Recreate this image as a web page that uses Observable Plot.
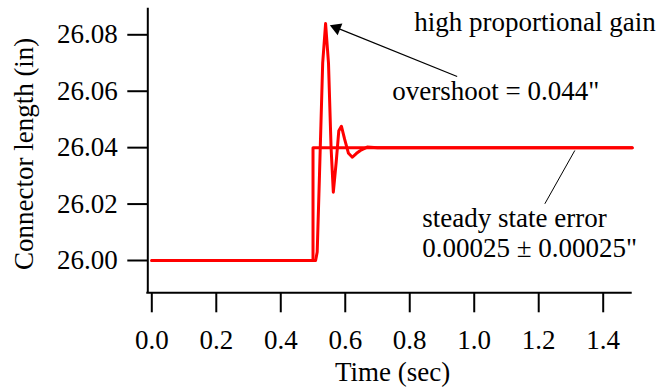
<!DOCTYPE html>
<html><head><meta charset="utf-8">
<script src="https://cdn.jsdelivr.net/npm/d3@7"></script>
<script src="https://cdn.jsdelivr.net/npm/@observablehq/plot@0.6"></script>
<style>body{margin:0;background:#fff;}</style>
</head><body><div id="chart"></div>
<script>
// Command (reference step) signal
const cmdTime = [0.0, 0.5, 0.5, 1.49];
const cmdLength = [26.00, 26.00, 26.04, 26.04];
// Measured response with high proportional gain
const respTime = [0.0, 0.508, 0.513, 0.520, 0.530, 0.539, 0.548, 0.556, 0.563, 0.572, 0.580, 0.588, 0.598, 0.610, 0.622, 0.635, 0.647, 0.668, 0.70, 1.49];
const respLength = [26.000, 26.000, 26.003, 26.030, 26.070, 26.084, 26.070, 26.040, 26.0242, 26.035, 26.046, 26.0476, 26.043, 26.038, 26.0366, 26.038, 26.039, 26.0402, 26.040, 26.040];
// Tick values
const xTicks = [0.0, 0.2, 0.4, 0.6, 0.8, 1.0, 1.2, 1.4];
const yTicks = [26.00, 26.02, 26.04, 26.06, 26.08];
// Texts
const xLabel = "Time (sec)";
const yLabel = "Connector length (in)";
const titleText = "high proportional gain";
const overshootText = "overshoot = 0.044\"";
const sseLine1 = "steady state error";
const sseLine2 = "0.00025 \u00b1 0.00025\"";

const cmd = cmdTime.map((t, i) => ({t, v: cmdLength[i]}));
const resp = respTime.map((t, i) => ({t, v: respLength[i]}));
const serif = "'Liberation Serif', 'Times New Roman', serif";
const txt = (s, o) => Plot.text([s], {text: d => d, fontSize: 27, fontFamily: serif, fill: "black", ...o});

const chart = Plot.plot({
  width: 671, height: 389,
  marginLeft: 151.3, marginRight: 68.3, marginTop: 34.3, marginBottom: 129,
  x: {domain: [0, 1.4]},
  y: {domain: [26.00, 26.08]},
  style: {fontFamily: serif, fontSize: "27px", color: "black", background: "white", overflow: "visible"},
  marks: [
    Plot.ruleX([-0.0124], {y1: 25.98855, y2: 26.0894, stroke: "black", strokeWidth: 2}),
    Plot.ruleY([25.98855], {x1: -0.0155, x2: 1.49, stroke: "black", strokeWidth: 2}),
    Plot.axisX({ticks: xTicks, tickFormat: d3.format(".1f"), tickSize: 20, tickPadding: 17, dy: 32.3, strokeWidth: 2, strokeOpacity: 1, label: null, fontSize: 27, fontFamily: serif}),
    Plot.axisY({ticks: yTicks, tickFormat: d3.format(".2f"), tickSize: 20, tickPadding: 10, dx: -4, strokeWidth: 2, strokeOpacity: 1, label: null, fontSize: 27, fontFamily: serif}),
    Plot.line(cmd, {x: "t", y: "v", stroke: "#ff0000", strokeWidth: 3}),
    Plot.line(resp, {x: "t", y: "v", stroke: "#ff0000", strokeWidth: 3, curve: "linear"}),
    Plot.link([0], {x1: 0.947, y1: 26.0652, x2: 0.566, y2: 26.0828, stroke: "black", strokeWidth: 1.2}),
    Plot.dot([0], {x: 0.5732, y: 26.08238, symbol: "triangle", r: 4.7, rotate: -68.2, fill: "black", stroke: "none"}),
    Plot.link([0], {x1: 1.219, y1: 26.0201, x2: 1.312, y2: 26.039, stroke: "black", strokeWidth: 1}),
    txt(xLabel, {x: 0.747, y: 25.9603}),
    txt(yLabel, {x: -0.3949, y: 26.0378, rotate: -90}),
    txt(titleText, {x: 1.5629, y: 26.0845, textAnchor: "end"}),
    txt(overshootText, {x: 0.7457, y: 26.0599, textAnchor: "start"}),
    txt(sseLine1, {x: 0.8387, y: 26.0150, textAnchor: "start"}),
    txt(sseLine2, {x: 0.8387, y: 26.00436, textAnchor: "start"})
  ]
});
document.getElementById("chart").appendChild(chart);
</script>
</body></html>
